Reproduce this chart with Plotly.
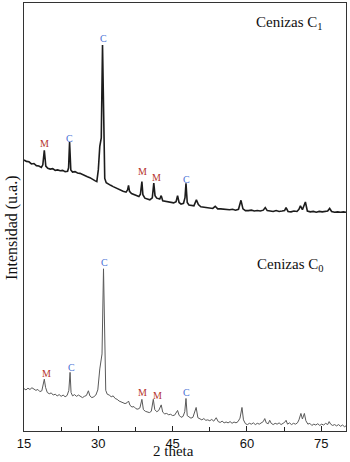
import plotly.graph_objects as go

# ---- Data (intensity in arbitrary units, 0-100 frame) ----
c1_theta = [15.0, 15.5, 16.0, 16.5, 17.0, 17.5, 18.0, 18.5, 18.8, 19.1, 19.4, 19.8, 20.3, 20.8, 21.3,
            21.8, 22.3, 22.8, 23.3, 23.8, 24.0, 24.2, 24.45, 24.8, 25.3, 25.8, 26.3, 26.8, 27.3, 27.8,
            28.3, 28.8, 29.3, 29.7, 30.0, 30.3, 30.6, 30.85, 31.1, 31.3, 31.6, 32.0, 32.5, 33.0, 33.5,
            34.0, 34.5, 35.0, 35.6, 35.9, 36.1, 36.3, 36.7, 37.2, 37.7, 38.2, 38.5, 38.8, 39.0, 39.4,
            39.9, 40.4, 40.9, 41.2, 41.45, 41.8, 42.4, 42.7, 43.0, 43.5, 44.0, 44.6, 45.2, 45.7, 46.0,
            46.3, 46.7, 47.2, 47.5, 47.7, 47.95, 48.3, 48.8, 49.3, 49.8, 50.2, 50.7, 51.3, 51.9, 52.5,
            53.1, 53.6, 54.1, 54.7, 55.3, 55.9, 56.5, 57.1, 57.7, 58.3, 58.8, 59.2, 59.7, 60.3, 60.9,
            61.5, 62.1, 62.7, 63.3, 63.7, 64.1, 64.7, 65.3, 65.9, 66.5, 67.1, 67.6, 67.9, 68.3, 68.9,
            69.5, 70.1, 70.5, 70.8, 71.2, 71.8, 72.2, 72.8, 73.4, 74.0, 74.6, 75.2, 75.8, 76.3, 76.7,
            77.1, 77.7, 78.3, 78.9, 79.5, 80.0]
c1_int = [63.3, 63.0, 62.9, 62.4, 62.5, 62.0, 61.9, 61.6, 62.2, 65.6, 61.9, 61.4, 61.2, 61.3, 60.9,
          61.0, 60.8, 60.9, 60.6, 60.7, 61.5, 67.5, 61.0, 60.5, 60.6, 60.3, 60.2, 59.9, 59.7, 59.4,
          59.2, 58.8, 58.5, 58.3, 61.0, 66.5, 68.5, 90.2, 75.0, 59.0, 58.0, 57.8, 57.4, 57.1, 56.8,
          56.5, 56.2, 56.0, 55.8, 56.3, 57.4, 56.0, 55.5, 55.2, 55.0, 54.8, 55.3, 58.3, 55.2, 54.4,
          54.2, 54.0, 54.5, 57.9, 55.0, 54.4, 54.2, 55.0, 53.8, 53.7, 53.6, 53.4, 53.3, 53.6, 55.0,
          53.4, 53.0, 53.2, 54.5, 57.9, 53.4, 52.8, 52.7, 52.6, 54.0, 52.9, 52.4, 52.3, 52.2, 52.1,
          52.0, 52.5, 51.9, 51.9, 51.8, 51.8, 51.7, 51.8, 51.6, 51.8, 53.9, 51.9, 51.5, 51.5, 51.6,
          51.4, 51.5, 51.4, 51.6, 52.2, 51.5, 51.4, 51.3, 51.5, 51.3, 51.4, 51.5, 52.2, 51.3, 51.2,
          51.4, 51.3, 51.8, 52.6, 51.7, 53.5, 51.4, 51.2, 51.3, 51.1, 51.3, 51.2, 51.3, 51.4, 52.0,
          51.3, 51.1, 51.2, 51.1, 51.2, 51.1]

c0_theta = [15.0, 15.4, 15.8, 16.2, 16.6, 17.0, 17.4, 17.8, 18.2, 18.6, 18.9, 19.1, 19.35, 19.7, 20.1,
            20.5, 20.9, 21.3, 21.7, 22.1, 22.5, 22.9, 23.3, 23.7, 24.05, 24.3, 24.5, 24.8, 25.2, 25.6,
            26.0, 26.4, 26.8, 27.2, 27.6, 28.0, 28.3, 28.7, 29.1, 29.5, 29.9, 30.3, 30.5, 30.75, 31.05,
            31.3, 31.5, 31.8, 32.2, 32.6, 33.0, 33.4, 33.8, 34.2, 34.6, 35.0, 35.4, 35.8, 36.1, 36.4,
            36.8, 37.2, 37.6, 38.0, 38.4, 38.8, 39.1, 39.5, 39.9, 40.3, 40.7, 41.1, 41.4, 41.8, 42.2,
            42.7, 43.0, 43.4, 43.8, 44.2, 44.6, 45.0, 45.4, 45.8, 46.0, 46.3, 46.7, 47.1, 47.45, 47.7,
            47.95, 48.3, 48.7, 49.1, 49.5, 49.75, 50.1, 50.5, 50.9, 51.3, 51.7, 52.1, 52.5, 52.9, 53.3,
            53.8, 54.2, 54.6, 55.0, 55.4, 55.8, 56.2, 56.6, 57.0, 57.4, 57.8, 58.2, 58.6, 59.0, 59.3,
            59.7, 60.1, 60.5, 60.9, 61.3, 61.7, 62.1, 62.5, 62.9, 63.3, 63.6, 63.9, 64.3, 64.6, 64.9,
            65.3, 65.7, 66.1, 66.5, 66.9, 67.3, 67.6, 67.9, 68.2, 68.6, 69.0, 69.4, 69.8, 70.2, 70.5,
            70.9, 71.2, 71.6, 71.9, 72.3, 72.7, 73.1, 73.5, 73.9, 74.3, 74.7, 75.1, 75.5, 75.9, 76.3,
            76.6, 76.9, 77.3, 77.7, 78.1, 78.5, 78.9, 79.3, 79.7, 80.0]
c0_int = [9.9, 9.6, 10.0, 9.7, 10.1, 9.8, 9.5, 9.7, 9.2, 9.4, 10.8, 12.1, 10.2, 9.0, 8.7,
          8.9, 8.4, 8.6, 8.2, 8.5, 8.1, 8.4, 8.0, 8.3, 9.5, 13.7, 9.0, 8.2, 8.5, 8.1,
          8.4, 8.0, 7.8, 8.1, 8.3, 9.4, 8.2, 7.8, 8.0, 8.4, 9.6, 14.5, 16.0, 18.0, 37.9,
          20.0, 9.5, 8.6, 8.4, 8.0, 8.2, 7.6, 7.4, 7.0, 6.8, 6.7, 6.4, 6.6, 7.0, 6.0,
          5.6, 5.7, 5.2, 5.1, 5.4, 7.4, 5.0, 4.6, 4.4, 4.3, 4.6, 7.4, 5.0, 4.5, 4.8,
          6.1, 4.4, 4.0, 4.1, 3.8, 3.9, 3.6, 3.7, 4.4, 4.8, 3.7, 3.2, 3.4, 4.5, 7.6,
          3.6, 3.3, 3.0, 3.2, 4.6, 5.5, 3.1, 2.8, 2.6, 2.9, 2.5, 2.6, 2.4, 2.7, 2.3,
          3.1, 2.2, 2.0, 2.3, 1.9, 2.1, 1.9, 2.2, 1.8, 2.1, 1.9, 2.2, 3.0, 5.5, 2.6,
          1.7, 1.5, 1.8, 1.6, 1.9, 1.5, 1.8, 1.6, 1.9, 2.2, 2.9, 1.9, 1.7, 2.5, 1.8,
          1.5, 1.8, 1.6, 1.9, 1.5, 1.8, 2.0, 2.5, 1.6, 1.9, 1.5, 1.8, 1.6, 1.9, 2.6,
          4.1, 2.8, 4.1, 2.4, 1.6, 1.8, 1.3, 1.6, 1.4, 1.7, 1.3, 1.6, 1.4, 1.8, 1.5,
          2.2, 1.6, 1.3, 1.5, 1.2, 1.5, 1.1, 1.4, 1.0, 1.2]

# Phase labels (M = red, C = blue): text, 2theta, intensity where label sits
c1_lbl_text = ["M", "C", "C", "M", "M", "C"]
c1_lbl_theta = [19.1, 24.2, 31.0, 38.9, 41.7, 47.9]
c1_lbl_int = [67.2, 68.3, 91.7, 60.7, 59.3, 58.8]

c0_lbl_text = ["M", "C", "C", "M", "M", "C"]
c0_lbl_theta = [19.6, 24.6, 31.2, 39.0, 41.9, 47.9]
c0_lbl_int = [13.5, 14.8, 39.3, 9.1, 8.4, 9.0]

x_ticks = [15, 30, 45, 60, 75]
sample_names = ["Cenizas C<sub>1</sub>", "Cenizas C<sub>0</sub>"]

SERIF = "Liberation Serif, DejaVu Serif, serif"
SANS = "Liberation Sans, Arial, sans-serif"
label_colors = {"M": "#b5322c", "C": "#4a72d6"}

fig = go.Figure()
fig.add_trace(go.Scatter(x=c1_theta, y=c1_int, mode="lines",
                         line=dict(color="#1c1c1c", width=1.6), showlegend=False))
fig.add_trace(go.Scatter(x=c0_theta, y=c0_int, mode="lines",
                         line=dict(color="#5a5a5a", width=1.0), showlegend=False))

annotations = []
for texts, xs, ys in [(c1_lbl_text, c1_lbl_theta, c1_lbl_int),
                      (c0_lbl_text, c0_lbl_theta, c0_lbl_int)]:
    for t, xv, yv in zip(texts, xs, ys):
        annotations.append(dict(x=xv, y=yv, xref="x", yref="y", text=t, showarrow=False,
                                font=dict(family=SERIF, size=10, color=label_colors[t]),
                                xanchor="center", yanchor="middle"))

annotations.append(dict(x=0.823, y=0.954, xref="paper", yref="paper", text=sample_names[0],
                        showarrow=False, font=dict(family=SERIF, size=15, color="#111"),
                        xanchor="center", yanchor="middle"))
annotations.append(dict(x=0.829, y=0.388, xref="paper", yref="paper", text=sample_names[1],
                        showarrow=False, font=dict(family=SERIF, size=15, color="#111"),
                        xanchor="center", yanchor="middle"))
annotations.append(dict(x=-0.038, y=0.474, xref="paper", yref="paper", text="Intensidad (u.a.)",
                        showarrow=False, textangle=-90,
                        font=dict(family=SERIF, size=16, color="#111"),
                        xanchor="center", yanchor="middle"))
annotations.append(dict(x=0.463, y=-0.047, xref="paper", yref="paper", text="2 theta",
                        showarrow=False, font=dict(family=SERIF, size=15, color="#111"),
                        xanchor="center", yanchor="middle"))

fig.update_layout(
    width=350, height=462,
    margin=dict(l=24, r=4, t=3, b=31),
    paper_bgcolor="white", plot_bgcolor="white",
    annotations=annotations,
    xaxis=dict(range=[15, 80], tickvals=x_ticks, ticks="inside", ticklen=5, tickwidth=1,
               tickcolor="#222", showline=True, linecolor="#333", linewidth=1, mirror=True,
               showgrid=False, zeroline=False,
               tickfont=dict(family=SANS, size=13, color="#111"),
               minor=dict(ticks="inside", ticklen=4, tick0=22.5, dtick=15, tickcolor="#222")),
    yaxis=dict(range=[0, 100], showticklabels=False, ticks="", showline=True,
               linecolor="#333", linewidth=1, mirror=True, showgrid=False, zeroline=False),
)

fig.write_html("out.html", config={"displayModeBar": False},
               post_script="document.body.style.margin='0';")
